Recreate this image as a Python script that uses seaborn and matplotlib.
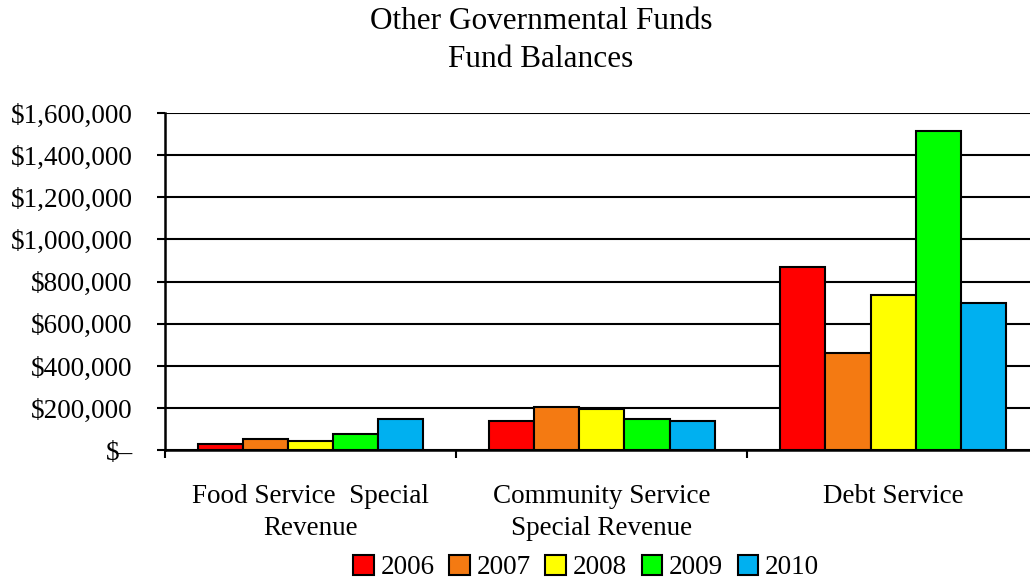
import matplotlib
matplotlib.use("Agg")
import matplotlib.pyplot as plt
import seaborn as sns
import pandas as pd
from matplotlib.ticker import FuncFormatter, FixedLocator
from matplotlib.patches import Patch

categories = ["Food Service  Special\nRevenue", "Community Service\nSpecial Revenue", "Debt Service"]
years = ["2006", "2007", "2008", "2009", "2010"]
v2006 = [28000, 139000, 869000]
v2007 = [54000, 207000, 462000]
v2008 = [45000, 196000, 736000]
v2009 = [75000, 150000, 1515000]
v2010 = [150000, 138000, 698000]
colors = ["#FF0000", "#F47A12", "#FFFF00", "#00FF00", "#00B0F0"]

rows = []
for y, vals in zip(years, [v2006, v2007, v2008, v2009, v2010]):
    for c, v in zip(categories, vals):
        rows.append({"Category": c, "Year": y, "Value": v})
df = pd.DataFrame(rows)

sns.set_theme(style="white")
plt.rcParams['font.family'] = ['Liberation Serif', 'DejaVu Serif']
plt.rcParams['text.color'] = 'black'
plt.rcParams['xtick.color'] = 'black'
plt.rcParams['ytick.color'] = 'black'

fig = plt.figure(figsize=(10.30, 5.84), dpi=100)
ax = fig.add_axes([0.160, 0.229, 0.840, 0.5775])

sns.barplot(data=df, x="Category", y="Value", hue="Year", order=categories,
            hue_order=years, palette=colors, width=0.775, saturation=1,
            edgecolor="black", linewidth=1.5, ax=ax, legend=False)

ax.set_xlim(-0.5, 2.47)
ax.set_ylim(0, 1600000)
ax.set_yticks(range(0, 1600001, 200000))

def fmt(v, pos):
    if v == 0:
        return "$\u2013"
    return "${:,.0f}".format(v)
ax.yaxis.set_major_formatter(FuncFormatter(fmt))
ax.yaxis.grid(True, color="black", linewidth=1.5)
ax.set_axisbelow(True)

for s in ["top", "right"]:
    ax.spines[s].set_visible(False)
for s in ["left", "bottom"]:
    ax.spines[s].set_color("black")
    ax.spines[s].set_linewidth(1.8)

ax.tick_params(axis="y", which="major", direction="out", length=6, width=1.5,
               color="black", labelsize=19.5, pad=17, left=True)
ax.tick_params(axis="x", which="major", length=0, labelsize=19.5, pad=24)
ax.xaxis.set_minor_locator(FixedLocator([-0.5, 0.5, 1.5, 2.5]))
ax.tick_params(axis="x", which="minor", direction="out", length=6, width=1.5,
               color="black", bottom=True)
for lbl in ax.get_xticklabels():
    lbl.set_linespacing(1.4)

ax.set_xlabel("")
ax.set_ylabel("")

fig.suptitle("Other Governmental Funds\nFund Balances", fontsize=22.5, x=0.525,
             y=0.988, linespacing=1.42)

handles = [Patch(facecolor=c, edgecolor="black", linewidth=1.5) for c in colors]
fig.legend(handles, years, loc="lower center", ncol=5, frameon=False,
           fontsize=19.5, bbox_to_anchor=(0.569, -0.035), handlelength=0.75,
           handleheight=0.75, handletextpad=0.25, columnspacing=0.55)

fig.savefig("out.png", dpi=100)
